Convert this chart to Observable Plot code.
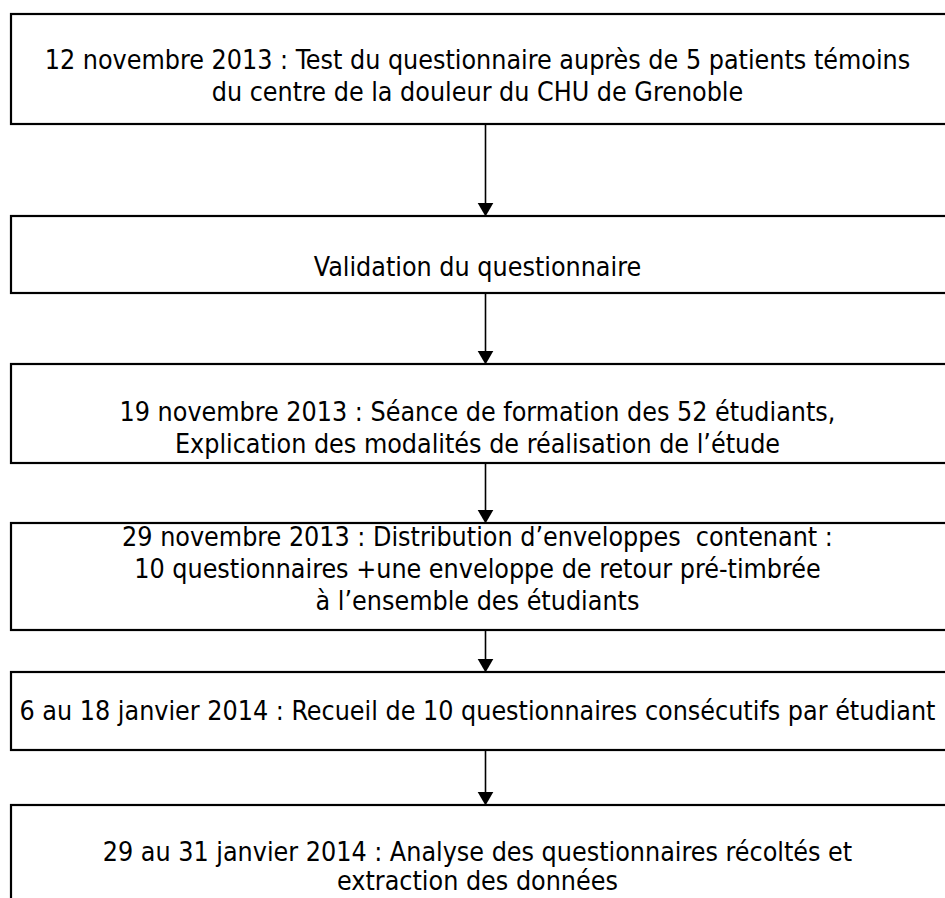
<!DOCTYPE html>
<html>
<head>
<meta charset="utf-8">
<script src="https://cdn.jsdelivr.net/npm/d3@7"></script>
<script src="https://cdn.jsdelivr.net/npm/@observablehq/plot@0.6"></script>
<style>
  html, body { margin: 0; padding: 0; background: #fff; }
  #chart { width: 945px; height: 898px; overflow: hidden; }
</style>
</head>
<body>
<div id="chart"></div>
<script>
// Flowchart steps (box edges in page pixels)
const stepLabels = [
  ["12 novembre 2013 : Test du questionnaire auprès de 5 patients témoins", "du centre de la douleur du CHU de Grenoble"],
  ["Validation du questionnaire"],
  ["19 novembre 2013 : Séance de formation des 52 étudiants,", "Explication des modalités de réalisation de l’étude"],
  ["29 novembre 2013 : Distribution d’enveloppes  contenant :", "10 questionnaires +une enveloppe de retour pré-timbrée", "à l’ensemble des étudiants"],
  ["6 au 18 janvier 2014 : Recueil de 10 questionnaires consécutifs par étudiant"],
  ["29 au 31 janvier 2014 : Analyse des questionnaires récoltés et", "extraction des données"]
];
const boxTop    = [14, 216, 364, 523, 672, 805];
const boxBottom = [124, 293, 463, 630, 750, 940];
const textFirstY = [60, 267, 412, 537, 711, 852];
const lineGaps   = [32, 32, 32, 32, 32, 29];

const boxLeft = 11, boxRight = 962, arrowX = 485, textX = 477;

const boxes = boxTop.map((t, i) => ({x1: boxLeft, x2: boxRight, y1: t, y2: boxBottom[i]}));
const lines = stepLabels.flatMap((ls, i) => ls.map((s, j) => ({x: textX, y: textFirstY[i] + j * lineGaps[i], text: s})));
const arrows = boxTop.slice(1).map((t, i) => ({x: arrowX, y1: boxBottom[i], y2: t}));

const chart = Plot.plot({
  width: 945,
  height: 898,
  margin: 0,
  x: {domain: [0, 945], range: [0, 945], axis: null},
  y: {domain: [0, 898], range: [0, 898], axis: null},
  style: {background: "#fff", overflow: "hidden"},
  marks: [
    Plot.rect(boxes, {x1: "x1", x2: "x2", y1: "y1", y2: "y2", fill: "#fff", stroke: "#000", strokeWidth: 2.2, clip: true}),
    Plot.link(arrows, {x1: "x", x2: "x", y1: "y1", y2: d => d.y2 - 13, stroke: "#000", strokeWidth: 1.6}),
    Plot.dot(arrows, {x: "x", y: "y2", dy: -9, symbol: "triangle", rotate: 180, r: 5.8, fill: "#000", stroke: "none"}),
    Plot.text(lines, {x: "x", y: "y", text: "text", textAnchor: "middle", fontSize: 26.6, fill: "#000",
      fontFamily: "'Liberation Sans Narrow', 'Arial Narrow', 'DejaVu Sans Condensed', sans-serif"})
  ]
});
document.getElementById("chart").appendChild(chart);
</script>
</body>
</html>
